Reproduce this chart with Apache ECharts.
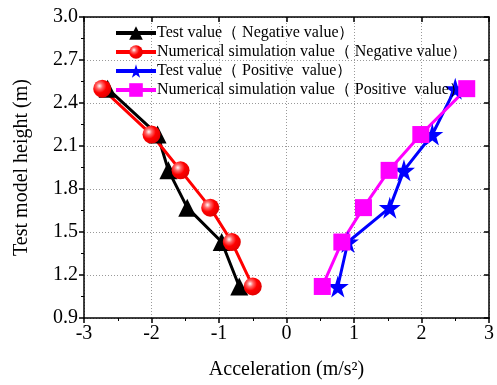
<!DOCTYPE html>
<html>
<head>
<meta charset="utf-8">
<script src="https://cdn.jsdelivr.net/npm/echarts@6/dist/echarts.min.js"></script>
<style>
html, body { margin: 0; padding: 0; background: #fff; }
#chart { width: 497px; height: 385px; }
</style>
</head>
<body>
<div id="chart"></div>
<script>
// heights (m)
var heights = [2.50, 2.18, 1.93, 1.67, 1.43, 1.12];
// acceleration (m/s^2)
var testNeg = [-2.65, -1.91, -1.75, -1.47, -0.96, -0.70];
var simNeg = [-2.73, -2.00, -1.57, -1.13, -0.81, -0.50];
var testPos = [2.50, 2.16, 1.74, 1.53, 0.91, 0.76];
var simPos = [2.67, 1.99, 1.52, 1.14, 0.82, 0.53];
var names = [
    'Test value\uff08 Negative value\uff09',
    'Numerical simulation value\uff08 Negative value\uff09',
    'Test value\uff08 Positive  value\uff09',
    'Numerical simulation value\uff08 Positive  value\uff09'
];

function pairs(xs) {
    return xs.map(function (x, i) { return [x, heights[i]]; });
}

function initChart() {
    var _chart = echarts.init(document.getElementById('chart'));
    var font = '"Liberation Serif", "Times New Roman", serif';
    var option = {
        animation: false,
        textStyle: { fontFamily: font },
        grid: { left: 84, right: 4, top: 17, bottom: 66 },
        legend: {
            orient: 'vertical',
            left: 109,
            top: 20,
            itemGap: 3,
            itemWidth: 40,
            itemHeight: 17,
            lineStyle: { width: 4 },
            textStyle: { fontFamily: font, fontSize: 16, color: '#000', padding: [0, 0, 0, -4] },
            data: names
        },
        xAxis: [{
            type: 'value',
            min: -3, max: 3, interval: 1,
            name: 'Acceleration (m/s\u00b2)',
            nameLocation: 'middle',
            nameGap: 42,
            nameTextStyle: { fontFamily: font, fontSize: 20, color: '#000' },
            axisLine: { onZero: false, lineStyle: { color: '#000', width: 1.5 } },
            axisTick: { length: 5, lineStyle: { color: '#000', width: 1.5 } },
            minorTick: { show: true, splitNumber: 2, length: 3, lineStyle: { color: '#000' } },
            axisLabel: { fontFamily: font, fontSize: 20, color: '#000', margin: 6 },
            splitLine: { show: true, lineStyle: { color: '#999', type: [1, 2], width: 1 } }
        }, {
            type: 'value',
            position: 'top',
            min: -3, max: 3, interval: 1,
            axisLine: { show: true, onZero: false, lineStyle: { color: '#000', width: 1.5 } },
            axisTick: { show: true, inside: true, length: 5, lineStyle: { color: '#000', width: 1.5 } },
            axisLabel: { show: false },
            splitLine: { show: false }
        }],
        yAxis: [{
            type: 'value',
            min: 0.9, max: 3.0, interval: 0.3,
            name: 'Test model height (m)',
            nameLocation: 'middle',
            nameGap: 52,
            nameTextStyle: { fontFamily: font, fontSize: 20, color: '#000' },
            axisLine: { show: true, onZero: false, lineStyle: { color: '#000', width: 1.5 } },
            axisTick: { show: true, length: 5, lineStyle: { color: '#000', width: 1.5 } },
            minorTick: { show: true, splitNumber: 2, length: 3, lineStyle: { color: '#000' } },
            axisLabel: {
                fontFamily: font, fontSize: 20, color: '#000', margin: 6,
                formatter: function (v) { return v.toFixed(1); }
            },
            splitLine: { show: true, lineStyle: { color: '#999', type: [1, 2], width: 1 } }
        }, {
            type: 'value',
            position: 'right',
            min: 0.9, max: 3.0, interval: 0.3,
            axisLine: { show: true, onZero: false, lineStyle: { color: '#000', width: 1.5 } },
            axisTick: { show: true, inside: true, length: 5, lineStyle: { color: '#000', width: 1.5 } },
            axisLabel: { show: false },
            splitLine: { show: false }
        }],
        series: [{
            name: names[0],
            type: 'line',
            symbol: 'triangle',
            symbolSize: 18,
            lineStyle: { color: '#000', width: 3 },
            itemStyle: { color: '#000' },
            data: pairs(testNeg)
        }, {
            name: names[1],
            type: 'line',
            symbol: 'circle',
            symbolSize: 18,
            lineStyle: { color: '#ff0000', width: 3 },
            itemStyle: {
                color: new echarts.graphic.RadialGradient(0.35, 0.35, 0.7, [
                    { offset: 0, color: '#ffffff' },
                    { offset: 0.25, color: '#ff6666' },
                    { offset: 0.55, color: '#ff0000' },
                    { offset: 1, color: '#e00000' }
                ])
            },
            data: pairs(simNeg)
        }, {
            name: names[2],
            type: 'line',
            symbol: 'path://M50,0 L61,35 L98,35 L68,57 L79,91 L50,70 L21,91 L32,57 L2,35 L39,35 Z',
            symbolSize: 22,
            lineStyle: { color: '#0000ff', width: 3 },
            itemStyle: { color: '#0000ff' },
            data: pairs(testPos)
        }, {
            name: names[3],
            type: 'line',
            symbol: 'rect',
            symbolSize: 17,
            lineStyle: { color: '#ff00ff', width: 3 },
            itemStyle: { color: '#ff00ff' },
            data: pairs(simPos)
        }]
    };
    _chart.setOption(option);
}
initChart();
</script>
</body>
</html>
